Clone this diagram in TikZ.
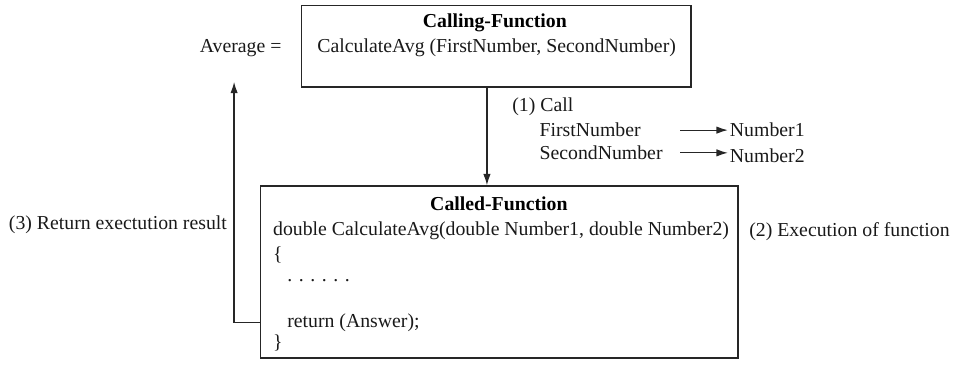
\documentclass[tikz,border=0pt]{standalone}
\usepackage{fontspec}
\setmainfont{Liberation Serif}
\usetikzlibrary{arrows.meta,positioning}

\begin{document}
\begin{tikzpicture}[
  >={Latex[length=2mm,width=1.3mm]},
  font=\fontsize{9.9}{12}\selectfont,
  funcbox/.style={draw=black!85, line width=0.6pt},
  title/.style={font=\fontsize{9.9}{12}\selectfont\bfseries, inner sep=0pt},
  txt/.style={inner sep=0pt, text=black!90},
  arrow/.style={->, line width=0.6pt, draw=black!85}
]
\useasboundingbox (0,0) rectangle (16.79,-6.424);

% calling side
\node[funcbox, minimum width=6.86cm, minimum height=1.44cm] (calling) at (8.73,-0.81) {};
\node[title] (callingtitle) at (8.71,-0.405) {Calling-Function};
\node[txt, anchor=west] (callexpr) at (5.58,-0.845) {CalculateAvg (FirstNumber, SecondNumber)};
\node[txt, anchor=east] (avg) at (4.96,-0.845) {Average =};

% called side
\node[funcbox, minimum width=8.41cm, minimum height=3.03cm] (called) at (8.783,-4.787) {};
\node[title] (calledtitle) at (8.78,-3.59) {Called-Function};
\node[txt, anchor=west] (signature) at (4.80,-4.07) {double CalculateAvg(double Number1, double Number2)};
\node[txt, anchor=west] (openbrace) at (4.80,-4.49) {\{};
\node[txt, anchor=west] (bodydots) at (5.05,-4.93) {. . . . . .};
\node[txt, anchor=west] (retline) at (5.05,-5.68) {return (Answer);};
\node[txt, anchor=west] (closebrace) at (4.80,-6.04) {\}};

% step labels
\node[txt, anchor=west] (stepone) at (9.01,-1.88) {(1) Call};
\node[txt, anchor=west] (firstarg) at (9.49,-2.29) {FirstNumber};
\node[txt, anchor=west] (secondarg) at (9.49,-2.69) {SecondNumber};
\node[txt, anchor=west] (numone) at (12.84,-2.29) {Number1};
\node[txt, anchor=west] (numtwo) at (12.84,-2.74) {Number2};
\node[txt, anchor=east] (stepthree) at (4.00,-3.96) {(3) Return exectution result};
\node[txt, anchor=west] (steptwo) at (13.18,-4.07) {(2) Execution of function};

% connectors
\coordinate (callx) at (8.57,0);
\coordinate (mapone) at (11.97,-2.29);
\coordinate (maptwo) at (11.97,-2.69);
\coordinate (avgfoot) at (4.12,-1.44);
\draw[arrow] (calling.south -| callx) -- (called.north -| callx);
\draw[arrow, shorten >=0.3mm] (mapone) -- (numone.west);
\draw[arrow, shorten >=0.3mm] (maptwo) -- (maptwo -| numtwo.west);
\draw[arrow] (called.west |- retline) -| (avgfoot);
\end{tikzpicture}
\end{document}
